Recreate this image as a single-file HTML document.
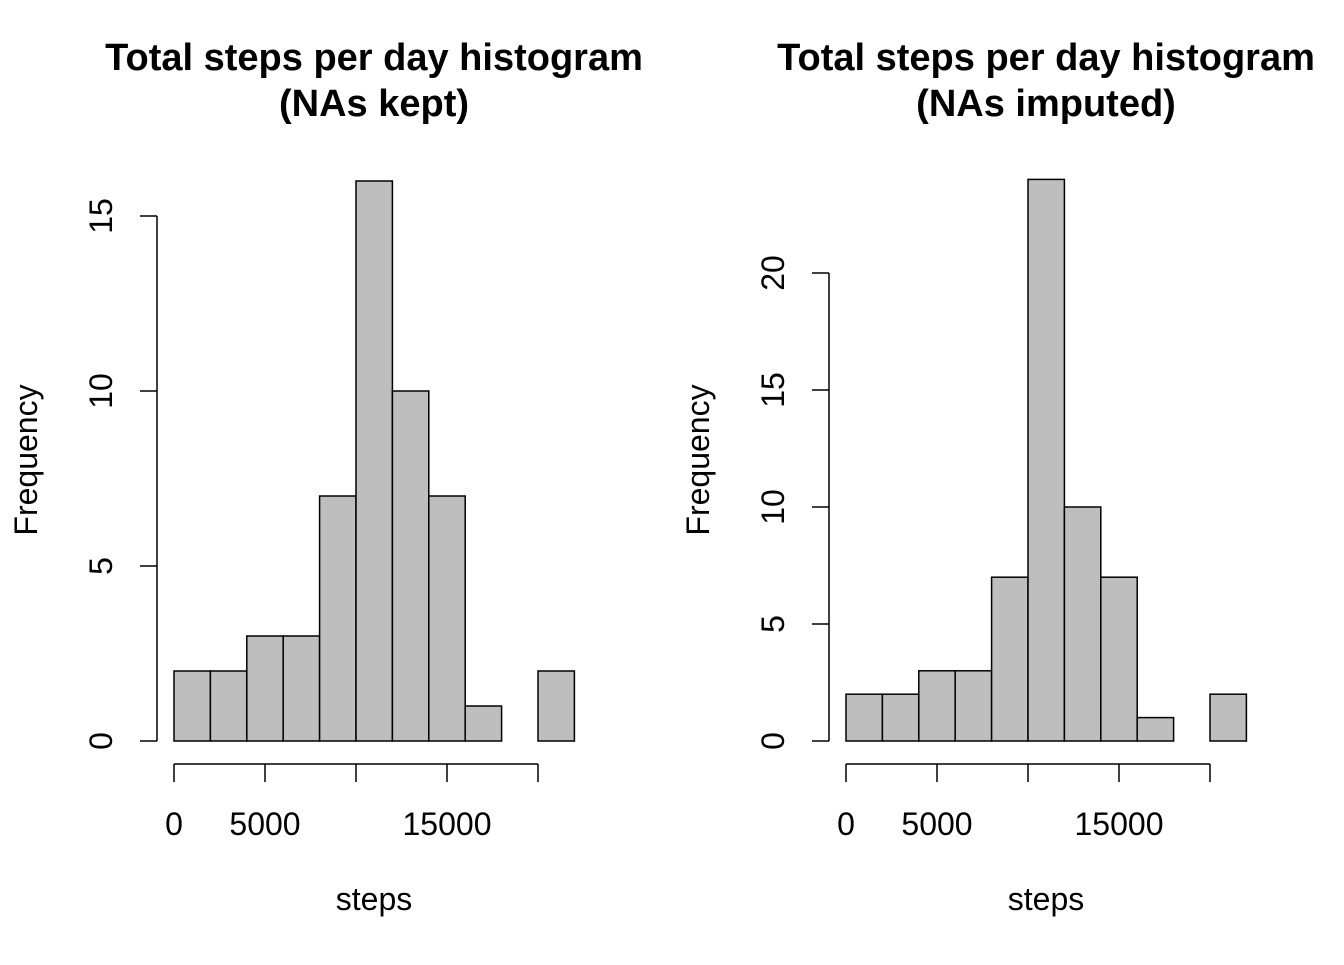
<!DOCTYPE html>
<html><head><meta charset="utf-8">
<style>
html,body{margin:0;padding:0;background:#fff;}
svg text{font-family:"Liberation Sans",Arial,sans-serif;fill:#000;}
</style></head>
<body>
<svg id="c" width="1344" height="960" xmlns="http://www.w3.org/2000/svg"></svg>
<script>
const binStarts = [0,2000,4000,6000,8000,10000,12000,14000,16000,18000,20000];
const binWidth = 2000;
const countsKept = [2,2,3,3,7,16,10,7,1,0,2];
const countsImputed = [2,2,3,3,7,24,10,7,1,0,2];
const xTicks = [0,5000,10000,15000,20000];
const xTickLabels = ["0","5000","","15000",""];
const yTicksKept = [0,5,10,15];
const yTicksImputed = [0,5,10,15,20];

const NS="http://www.w3.org/2000/svg";
const svg=document.getElementById('c');
function mk(tag,attrs,parent){const e=document.createElementNS(NS,tag);for(const k in attrs)e.setAttribute(k,attrs[k]);(parent||svg).appendChild(e);return e;}

function panel(opts){
  const g=mk('g',{});
  
  
  const x0=opts.x0, pxPer=91/5000;
  const xs=v=>x0+v*pxPer;
  const y0=741, ys=v=>y0-v*opts.pxUnit;
  opts.counts.forEach((c,i)=>{
    if(c<=0) return;
    const r=mk('rect',{x:xs(binStarts[i]),y:ys(c),width:binWidth*pxPer,height:c*opts.pxUnit,fill:'#bebebe',stroke:'#000','stroke-width':1.5},g);
    
    
  });
  const ya=mk('g',{},g);
  
  
  const ax=x0-17;
  mk('line',{x1:ax,x2:ax,y1:ys(opts.yTicks[0]),y2:ys(opts.yTicks[opts.yTicks.length-1]),stroke:'#000','stroke-width':1.5},ya);
  opts.yTicks.forEach(t=>{
    mk('line',{x1:ax-17,x2:ax,y1:ys(t),y2:ys(t),stroke:'#000','stroke-width':1.5},ya);
    const tx=mk('text',{x:0,y:0,'font-size':32,'text-anchor':'middle',transform:`translate(${ax-45},${ys(t)}) rotate(-90)`},ya);
    tx.textContent=t;
  });
  const xa=mk('g',{},g);
  
  
  mk('line',{x1:xs(xTicks[0]),x2:xs(xTicks[xTicks.length-1]),y1:764,y2:764,stroke:'#000','stroke-width':1.5},xa);
  xTicks.forEach((t,i)=>{
    mk('line',{x1:xs(t),x2:xs(t),y1:764,y2:782,stroke:'#000','stroke-width':1.5},xa);
    if(xTickLabels[i]){const tx=mk('text',{x:xs(t),y:835,'font-size':32,'text-anchor':'middle'},xa);tx.textContent=xTickLabels[i];}
  });
  const cx=x0+200;
  const t1=mk('text',{x:cx,y:70,'font-size':38,'font-weight':'bold','text-anchor':'middle'},g);
  t1.textContent='Total steps per day histogram';
  
  
  const t2=mk('text',{x:cx,y:116,'font-size':38,'font-weight':'bold','text-anchor':'middle'},g);
  t2.textContent=opts.sub;
  
  
  const xl=mk('text',{x:cx,y:910,'font-size':32,'text-anchor':'middle'},g);
  xl.textContent='steps';
  
  
  const yl=mk('text',{x:0,y:0,'font-size':32,'text-anchor':'middle',transform:`translate(${x0-137},460) rotate(-90)`},g);
  yl.textContent='Frequency';
  
  
}
panel({name:'histogram-nas-kept',x0:174,pxUnit:35,counts:countsKept,yTicks:yTicksKept,sub:'(NAs kept)'});
panel({name:'histogram-nas-imputed',x0:846,pxUnit:23.4,counts:countsImputed,yTicks:yTicksImputed,sub:'(NAs imputed)'});
</script>
</body></html>
